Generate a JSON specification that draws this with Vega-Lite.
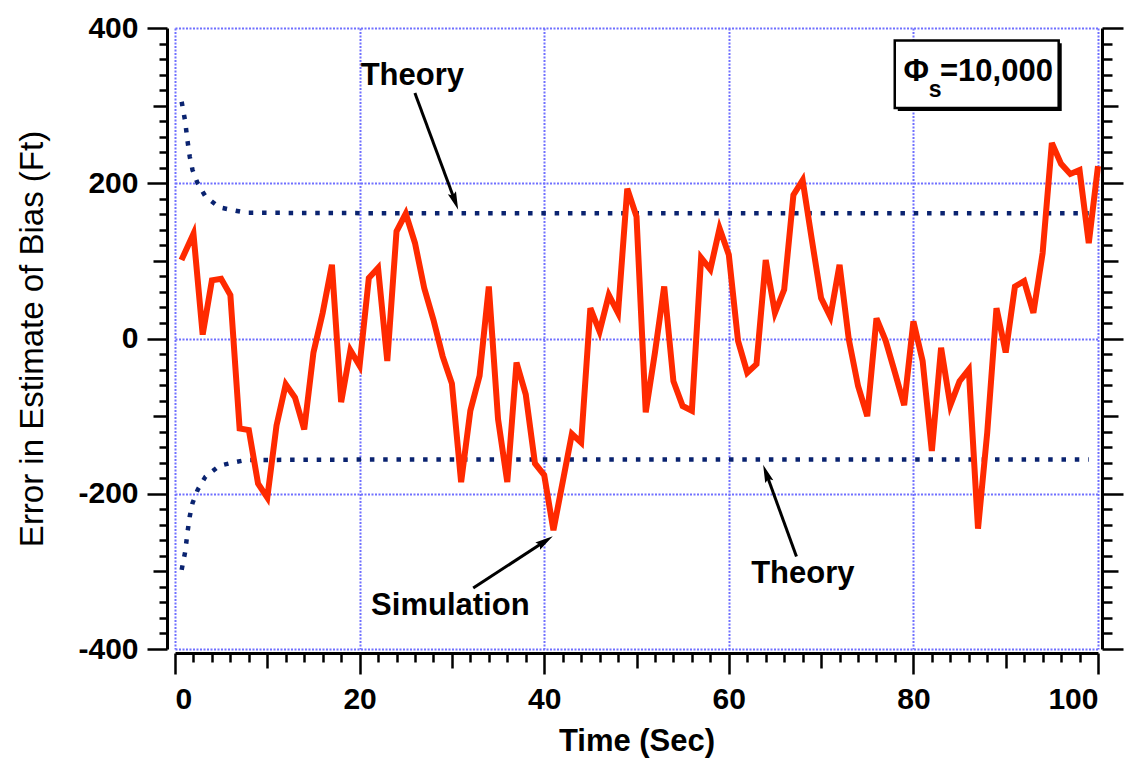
{
  "$schema": "https://vega.github.io/schema/vega-lite/v6.json",
  "width": 923,
  "height": 621,
  "autosize": "none",
  "padding": {"left": 175, "top": 28, "right": 27, "bottom": 111},
  "background": "white",
  "config": {"view": {"stroke": null}, "font": "Liberation Sans"},
  "datasets": {
    "sim": [
      {"t": 0.7, "v": 101}, {"t": 2, "v": 135}, {"t": 3, "v": 5}, {"t": 4, "v": 75}, {"t": 5, "v": 77},
      {"t": 6, "v": 56}, {"t": 7, "v": -116}, {"t": 8, "v": -118}, {"t": 9, "v": -187}, {"t": 10, "v": -205},
      {"t": 11, "v": -112}, {"t": 12, "v": -59}, {"t": 13, "v": -76}, {"t": 14, "v": -117}, {"t": 15, "v": -18},
      {"t": 16, "v": 33}, {"t": 17, "v": 95}, {"t": 18, "v": -82}, {"t": 19, "v": -15}, {"t": 20, "v": -35},
      {"t": 21, "v": 78}, {"t": 22, "v": 91}, {"t": 23, "v": -29}, {"t": 24, "v": 138}, {"t": 25, "v": 161},
      {"t": 26, "v": 123}, {"t": 27, "v": 65}, {"t": 28, "v": 24}, {"t": 29, "v": -23}, {"t": 30, "v": -58},
      {"t": 31, "v": -185}, {"t": 32, "v": -93}, {"t": 33, "v": -48}, {"t": 34, "v": 67}, {"t": 35, "v": -104},
      {"t": 36, "v": -185}, {"t": 37, "v": -31}, {"t": 38, "v": -72}, {"t": 39, "v": -161}, {"t": 40, "v": -176},
      {"t": 41, "v": -247}, {"t": 42, "v": -185}, {"t": 43, "v": -123}, {"t": 44, "v": -134}, {"t": 45, "v": 39},
      {"t": 46, "v": 9}, {"t": 47, "v": 56}, {"t": 48, "v": 33}, {"t": 49, "v": 193}, {"t": 50, "v": 157},
      {"t": 51, "v": -95}, {"t": 52, "v": -18}, {"t": 53, "v": 67}, {"t": 54, "v": -55}, {"t": 55, "v": -87},
      {"t": 56, "v": -93}, {"t": 57, "v": 104}, {"t": 58, "v": 89}, {"t": 59, "v": 142}, {"t": 60, "v": 108},
      {"t": 61, "v": -3}, {"t": 62, "v": -44}, {"t": 63, "v": -33}, {"t": 64, "v": 101}, {"t": 65, "v": 33},
      {"t": 66, "v": 63}, {"t": 67, "v": 185}, {"t": 68, "v": 204}, {"t": 69, "v": 127}, {"t": 70, "v": 52},
      {"t": 71, "v": 28}, {"t": 72, "v": 95}, {"t": 73, "v": -1}, {"t": 74, "v": -61}, {"t": 75, "v": -100},
      {"t": 76, "v": 26}, {"t": 77, "v": -3}, {"t": 78, "v": -44}, {"t": 79, "v": -86}, {"t": 80, "v": 22},
      {"t": 81, "v": -29}, {"t": 82, "v": -145}, {"t": 83, "v": -12}, {"t": 84, "v": -86}, {"t": 85, "v": -55},
      {"t": 86, "v": -40}, {"t": 87, "v": -245}, {"t": 88, "v": -121}, {"t": 89, "v": 39}, {"t": 90, "v": -18},
      {"t": 91, "v": 67}, {"t": 92, "v": 74}, {"t": 93, "v": 33}, {"t": 94, "v": 110}, {"t": 95, "v": 252},
      {"t": 96, "v": 225}, {"t": 97, "v": 212}, {"t": 98, "v": 217}, {"t": 99, "v": 123}, {"t": 100, "v": 222}
    ],
    "theory": [
      {"t": 0.72, "v": 305, "branch": "upper"}, {"t": 1.1, "v": 280, "branch": "upper"}, {"t": 1.35, "v": 255, "branch": "upper"},
      {"t": 1.6, "v": 234, "branch": "upper"}, {"t": 1.9, "v": 217, "branch": "upper"}, {"t": 2.45, "v": 200, "branch": "upper"},
      {"t": 3.3, "v": 183, "branch": "upper"}, {"t": 4.8, "v": 169, "branch": "upper"}, {"t": 6.2, "v": 165.5, "branch": "upper"},
      {"t": 7.7, "v": 162, "branch": "upper"}, {"t": 20, "v": 161.5, "branch": "upper"}, {"t": 99, "v": 161.5, "branch": "upper"},
      {"t": 0.72, "v": -298, "branch": "lower"}, {"t": 1.1, "v": -275, "branch": "lower"}, {"t": 1.35, "v": -250, "branch": "lower"},
      {"t": 1.6, "v": -229, "branch": "lower"}, {"t": 1.9, "v": -212, "branch": "lower"}, {"t": 2.45, "v": -195, "branch": "lower"},
      {"t": 3.3, "v": -178, "branch": "lower"}, {"t": 4.8, "v": -164, "branch": "lower"}, {"t": 6.2, "v": -160, "branch": "lower"},
      {"t": 7.7, "v": -156.5, "branch": "lower"}, {"t": 20, "v": -156, "branch": "lower"}, {"t": 99, "v": -156, "branch": "lower"}
    ],
    "arrows": [
      {"name": "top", "t": 25.99, "v": 316.3, "t2": 30.3, "v2": 178.0, "tt": 30.68, "vt": 165.9},
      {"name": "bottom", "t": 67.33, "v": -280.7, "t2": 64.08, "v2": -174.7, "tt": 63.72, "vt": -162.6},
      {"name": "sim", "t": 32.31, "v": -321.4, "t2": 40.0, "v2": -261.9, "tt": 40.93, "vt": -254.9}
    ],
    "labels": [
      {"t": 25.71, "v": 326.9, "text": "Theory"},
      {"t": 68.02, "v": -315.0, "text": "Theory"},
      {"t": 29.83, "v": -355.8, "text": "Simulation"},
      {"t": 80.3, "v": 331.2, "text": "Φ"},
      {"t": 89.0, "v": 331.2, "text": "=10,000"}
    ],
    "sub": [
      {"t": 82.35, "v": 311.0, "text": "s"}
    ],
    "box": [
      {"part": "shadow", "x1": 78.31, "x2": 96.07, "y1": 380.2, "y2": 293.1},
      {"part": "box", "x1": 77.98, "x2": 95.74, "y1": 384.0, "y2": 296.9}
    ]
  },
  "layer": [
    {
      "data": {"name": "theory"},
      "mark": {"type": "line", "color": "#0a2370", "strokeWidth": 4.5, "strokeDash": [4.5, 8.8], "strokeCap": "butt"},
      "encoding": {
        "x": {"field": "t", "type": "quantitative", "scale": {"domain": [0, 100], "nice": false}, "axis": null},
        "y": {
          "field": "v", "type": "quantitative", "scale": {"domain": [-400, 400], "nice": false},
          "axis": {
            "orient": "right", "offset": 4, "title": null, "labels": false, "grid": false,
            "values": [-400,-380,-360,-340,-320,-300,-280,-260,-240,-220,-200,-180,-160,-140,-120,-100,-80,-60,-40,-20,0,20,40,60,80,100,120,140,160,180,200,220,240,260,280,300,320,340,360,380,400],
            "domainColor": "black", "domainWidth": 3, "tickColor": "black", "tickWidth": 2.5,
            "tickSize": {"condition": [{"test": "datum.value % 200 === 0", "value": 21}, {"test": "datum.value % 100 === 0", "value": 16}], "value": 10}
          }
        },
        "detail": {"field": "branch"}
      }
    },
    {
      "data": {"name": "sim"},
      "mark": {"type": "line", "color": "#ff2a00", "strokeWidth": 6, "strokeJoin": "miter"},
      "encoding": {
        "x": {
          "field": "t", "type": "quantitative", "scale": {"domain": [0, 100], "nice": false},
          "axis": {
            "orient": "bottom", "offset": 4, "title": "Time (Sec)",
            "values": [0,2,4,6,8,10,12,14,16,18,20,22,24,26,28,30,32,34,36,38,40,42,44,46,48,50,52,54,56,58,60,62,64,66,68,70,72,74,76,78,80,82,84,86,88,90,92,94,96,98,100],
            "labelExpr": "datum.value % 20 === 0 ? '' + datum.value : ''",
            "labelOverlap": false, "labelFont": "Liberation Sans", "labelFontWeight": "bold", "labelFontSize": 30, "labelColor": "black", "labelPadding": 10,
            "titleFont": "Liberation Sans", "titleFontWeight": "bold", "titleFontSize": 31, "titleColor": "black", "titlePadding": 12,
            "domainColor": "black", "domainWidth": 3, "tickColor": "black", "tickWidth": 2.5,
            "tickSize": {"condition": [{"test": "datum.value % 20 === 0", "value": 21}, {"test": "datum.value % 10 === 0", "value": 15}], "value": 9},
            "grid": true, "gridColor": "#7070ff", "gridWidth": 2, "gridDash": [2, 1.5],
            "gridOpacity": {"condition": {"test": "datum.value % 20 === 0", "value": 1}, "value": 0}
          }
        },
        "y": {
          "field": "v", "type": "quantitative", "scale": {"domain": [-400, 400], "nice": false},
          "axis": {
            "orient": "left", "offset": 8, "title": "Error in Estimate of Bias (Ft)",
            "values": [-400,-380,-360,-340,-320,-300,-280,-260,-240,-220,-200,-180,-160,-140,-120,-100,-80,-60,-40,-20,0,20,40,60,80,100,120,140,160,180,200,220,240,260,280,300,320,340,360,380,400],
            "labelExpr": "datum.value % 200 === 0 ? '' + datum.value : ''",
            "labelOverlap": false, "labelFont": "Liberation Sans", "labelFontWeight": "bold", "labelFontSize": 30, "labelColor": "black", "labelPadding": 9,
            "titleFont": "Liberation Sans", "titleFontWeight": "normal", "titleFontSize": 33, "titleColor": "black", "titlePadding": 28,
            "domainColor": "black", "domainWidth": 3, "tickColor": "black", "tickWidth": 2.5,
            "tickSize": {"condition": [{"test": "datum.value % 200 === 0", "value": 20}, {"test": "datum.value % 100 === 0", "value": 14}], "value": 8},
            "grid": true, "gridColor": "#7070ff", "gridWidth": 2, "gridDash": [2, 1.5],
            "gridOpacity": {"condition": {"test": "datum.value % 200 === 0", "value": 1}, "value": 0}
          }
        }
      }
    },
    {
      "data": {"name": "box"},
      "transform": [{"filter": "datum.part === 'shadow'"}],
      "mark": {"type": "rect", "fill": "black"},
      "encoding": {
        "x": {"field": "x1", "type": "quantitative", "axis": null}, "x2": {"field": "x2"},
        "y": {"field": "y1", "type": "quantitative", "axis": null}, "y2": {"field": "y2"}
      }
    },
    {
      "data": {"name": "box"},
      "transform": [{"filter": "datum.part === 'box'"}],
      "mark": {"type": "rect", "fill": "white", "stroke": "black", "strokeWidth": 2.5},
      "encoding": {
        "x": {"field": "x1", "type": "quantitative", "axis": null}, "x2": {"field": "x2"},
        "y": {"field": "y1", "type": "quantitative", "axis": null}, "y2": {"field": "y2"}
      }
    },
    {
      "data": {"name": "arrows"},
      "mark": {"type": "rule", "color": "black", "strokeWidth": 3},
      "encoding": {
        "x": {"field": "t", "type": "quantitative", "axis": null}, "x2": {"field": "t2"},
        "y": {"field": "v", "type": "quantitative", "axis": null}, "y2": {"field": "v2"}
      }
    },
    {
      "data": {"name": "arrows"},
      "transform": [{"filter": "datum.name === 'top'"}],
      "mark": {"type": "point", "shape": "M0,0L0.24,1L0,0.85L-0.24,1Z", "size": 1296, "filled": true, "fill": "black", "strokeWidth": 0, "opacity": 1, "angle": 159.6},
      "encoding": {
        "x": {"field": "tt", "type": "quantitative", "axis": null},
        "y": {"field": "vt", "type": "quantitative", "axis": null}
      }
    },
    {
      "data": {"name": "arrows"},
      "transform": [{"filter": "datum.name === 'bottom'"}],
      "mark": {"type": "point", "shape": "M0,0L0.24,1L0,0.85L-0.24,1Z", "size": 1296, "filled": true, "fill": "black", "strokeWidth": 0, "opacity": 1, "angle": -20},
      "encoding": {
        "x": {"field": "tt", "type": "quantitative", "axis": null},
        "y": {"field": "vt", "type": "quantitative", "axis": null}
      }
    },
    {
      "data": {"name": "arrows"},
      "transform": [{"filter": "datum.name === 'sim'"}],
      "mark": {"type": "point", "shape": "M0,0L0.24,1L0,0.85L-0.24,1Z", "size": 1296, "filled": true, "fill": "black", "strokeWidth": 0, "opacity": 1, "angle": 57},
      "encoding": {
        "x": {"field": "tt", "type": "quantitative", "axis": null},
        "y": {"field": "vt", "type": "quantitative", "axis": null}
      }
    },
    {
      "data": {"name": "labels"},
      "mark": {"type": "text", "font": "Liberation Sans", "fontWeight": "bold", "fontSize": 31, "align": "center", "baseline": "alphabetic", "color": "black"},
      "encoding": {
        "x": {"field": "t", "type": "quantitative", "axis": null},
        "y": {"field": "v", "type": "quantitative", "axis": null},
        "text": {"field": "text"}
      }
    },
    {
      "data": {"name": "sub"},
      "mark": {"type": "text", "font": "Liberation Sans", "fontWeight": "bold", "fontSize": 23, "align": "center", "baseline": "alphabetic", "color": "black"},
      "encoding": {
        "x": {"field": "t", "type": "quantitative", "axis": null},
        "y": {"field": "v", "type": "quantitative", "axis": null},
        "text": {"field": "text"}
      }
    }
  ],
  "resolve": {"axis": {"x": "independent", "y": "independent"}}
}
